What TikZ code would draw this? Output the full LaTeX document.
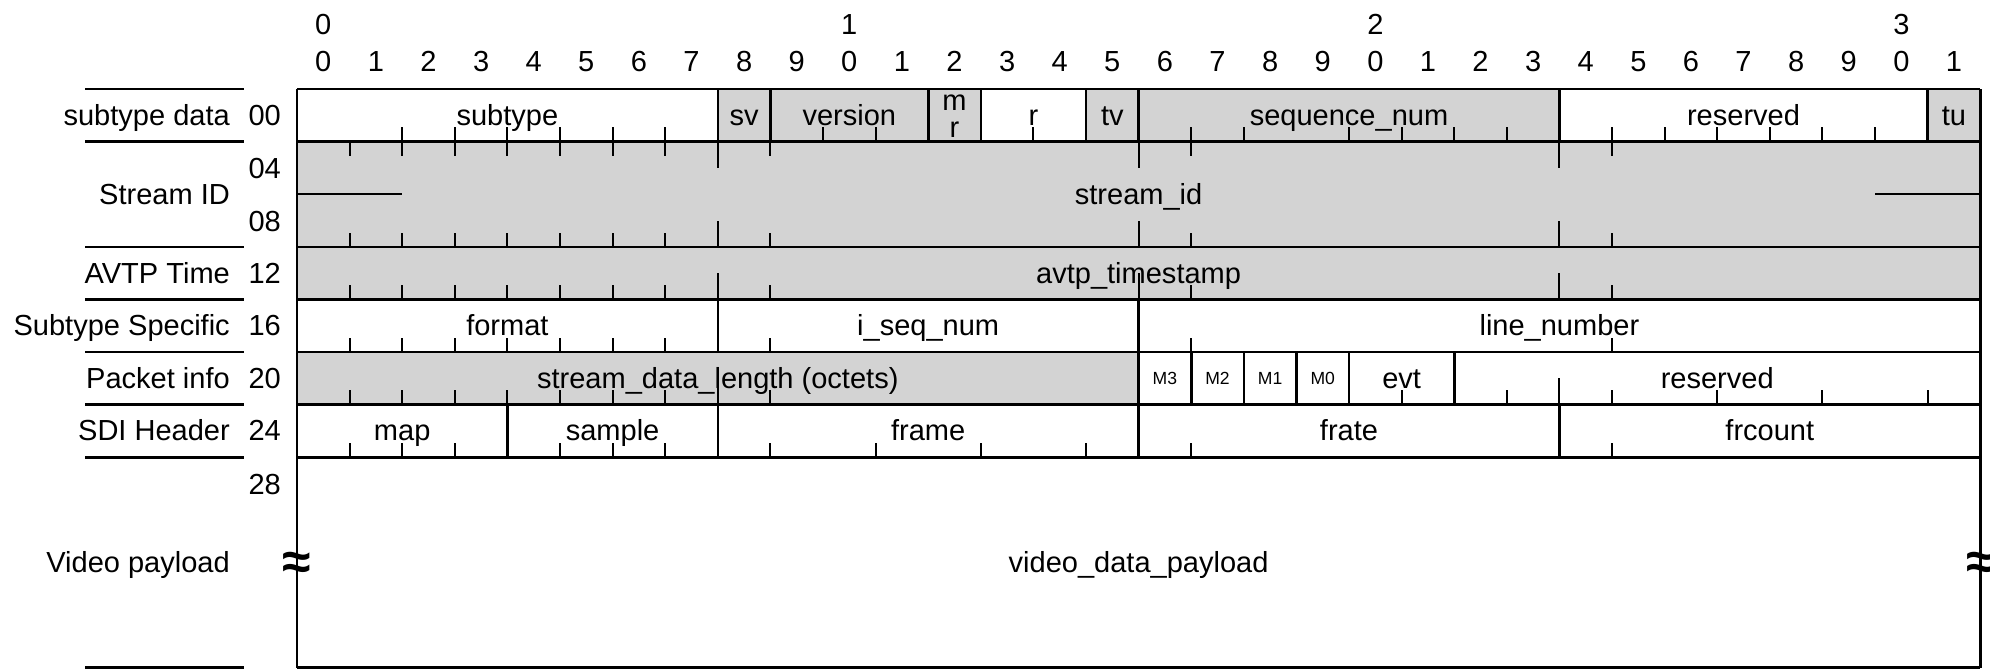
\documentclass[tikz,border=0pt]{standalone}
\usepackage{fontspec}
\setmainfont{Liberation Sans}
\definecolor{fgray}{RGB}{211,211,211}
\tikzset{
  txt/.style={font=\fontsize{15.7}{18}\selectfont, inner sep=0pt, anchor=base},
  rtxt/.style={txt, anchor=base east},
  smalltxt/.style={font=\fontsize{9.5}{11}\selectfont, inner sep=0pt, anchor=base},
  tickline/.style={line width=1.1pt},
  bord/.style={line width=1.4pt},
  sepline/.style={line width=1.4pt},
  wave/.style={font=\fontsize{28}{30}\selectfont\bfseries, inner sep=0pt, anchor=base},
}
\begin{document}
\begin{tikzpicture}[x=1cm,y=1cm]
\useasboundingbox (-5.646,-11.008) rectangle (32.186,1.692);
% gray fills
\fill[fgray] (8,0) rectangle (13,-1);
\fill[fgray] (15,0) rectangle (24,-1);
\fill[fgray] (31,0) rectangle (32,-1);
\fill[fgray] (0,-1) rectangle (32,-4);
\fill[fgray] (0,-5) rectangle (16,-6);
% ticks row 00
\foreach \x in {2,...,7,10,11,14,17,18,20,21,22,23,25,26,27,28,29,30}
  \draw[tickline] (\x,-1) -- ++(0,0.27);
% stream id and avtp
\foreach \x in {1,...,7,9,...,15,17,...,23,25,...,31}{
  \draw[tickline] (\x,-1) -- ++(0,-0.27);
  \draw[tickline] (\x,-3) -- ++(0,0.27);
  \draw[tickline] (\x,-4) -- ++(0,0.27);
}
\foreach \x in {8,16,24}{
  \draw[tickline] (\x,-1) -- ++(0,-0.5);
  \draw[tickline] (\x,-3) -- ++(0,0.5);
  \draw[tickline] (\x,-4) -- ++(0,0.5);
}
% row 16
\foreach \x in {1,...,7,9,...,15,17,...,31}
  \draw[tickline] (\x,-5) -- ++(0,0.27);
% row 20
\foreach \x in {1,...,7,9,...,15,21,23,25,...,31}
  \draw[tickline] (\x,-6) -- ++(0,0.27);
\foreach \x in {8,24}
  \draw[tickline] (\x,-6) -- ++(0,0.5);
% row 24
\foreach \x in {1,2,3,5,6,7,9,...,15,17,...,23,25,...,31}
  \draw[tickline] (\x,-7) -- ++(0,0.27);
% stream id break marks
\draw[tickline] (0,-2) -- (2,-2);
\draw[tickline] (30,-2) -- (32,-2);
% horizontal borders
\foreach \y in {0,-1,-3,-4,-5,-6,-7,-11}
  \draw[bord] (0,\y) -- (32,\y);
\draw[bord] (0,0) -- (0,-11);
\draw[bord] (32,0) -- (32,-11);
% field dividers
\foreach \x in {8,9,12,13,15,16,24,31} \draw[bord] (\x,0) -- (\x,-1);
\foreach \x in {8,16} \draw[bord] (\x,-4) -- (\x,-5);
\foreach \x in {16,17,18,19,20,22} \draw[bord] (\x,-5) -- (\x,-6);
\foreach \x in {4,8,16,24} \draw[bord] (\x,-6) -- (\x,-7);
% left separator lines
\foreach \y in {0,-1,-3,-4,-5,-6,-7,-11}
  \draw[sepline] (-4.03,\y) -- (-1.01,\y);
% bit numbers
\foreach \i in {0,...,31}{
  \pgfmathtruncatemacro\d{mod(\i,10)}
  \node[txt] (bit\i) at (\i+0.5,0.34) {\d};
}
\node[txt] (ten0) at (0.5,1.04) {0};
\node[txt] (ten1) at (10.5,1.04) {1};
\node[txt] (ten2) at (20.5,1.04) {2};
\node[txt] (ten3) at (30.5,1.04) {3};
% row names
\node[rtxt] (n00) at (-1.27,-0.69) {subtype data};
\node[rtxt] (n04) at (-1.27,-2.19) {Stream ID};
\node[rtxt] (n12) at (-1.27,-3.69) {AVTP Time};
\node[rtxt] (n16) at (-1.27,-4.69) {Subtype Specific};
\node[rtxt] (n20) at (-1.27,-5.69) {Packet info};
\node[rtxt] (n24) at (-1.27,-6.69) {SDI Header};
\node[rtxt] (n28) at (-1.27,-9.19) {Video payload};
% offsets
\node[rtxt] (o00) at (-0.3,-0.69) {00};
\node[rtxt] (o04) at (-0.3,-1.70) {04};
\node[rtxt] (o08) at (-0.3,-2.71) {08};
\node[rtxt] (o12) at (-0.3,-3.69) {12};
\node[rtxt] (o16) at (-0.3,-4.69) {16};
\node[rtxt] (o20) at (-0.3,-5.69) {20};
\node[rtxt] (o24) at (-0.3,-6.69) {24};
\node[rtxt] (o28) at (-0.3,-7.71) {28};
% row 00 fields
\node[txt] (f-subtype) at (4,-0.69) {subtype};
\node[txt] (f-sv) at (8.5,-0.69) {sv};
\node[txt] (f-version) at (10.5,-0.69) {version};
\node[txt] (f-m) at (12.5,-0.40) {m};
\node[txt] (f-r1) at (12.5,-0.93) {r};
\node[txt] (f-r) at (14,-0.69) {r};
\node[txt] (f-tv) at (15.5,-0.69) {tv};
\node[txt] (f-seq) at (20,-0.69) {sequence\_num};
\node[txt] (f-res0) at (27.5,-0.69) {reserved};
\node[txt] (f-tu) at (31.5,-0.69) {tu};
% other fields
\node[txt] (f-sid) at (16,-2.19) {stream\_id};
\node[txt] (f-avtp) at (16,-3.69) {avtp\_timestamp};
\node[txt] (f-format) at (4,-4.69) {format};
\node[txt] (f-iseq) at (12,-4.69) {i\_seq\_num};
\node[txt] (f-line) at (24,-4.69) {line\_number};
\node[txt] (f-sdl) at (8,-5.69) {stream\_data\_length (octets)};
\node[smalltxt] (f-m3) at (16.5,-5.62) {M3};
\node[smalltxt] (f-m2) at (17.5,-5.62) {M2};
\node[smalltxt] (f-m1) at (18.5,-5.62) {M1};
\node[smalltxt] (f-m0) at (19.5,-5.62) {M0};
\node[txt] (f-evt) at (21,-5.69) {evt};
\node[txt] (f-res1) at (27,-5.69) {reserved};
\node[txt] (f-map) at (2,-6.69) {map};
\node[txt] (f-sample) at (6,-6.69) {sample};
\node[txt] (f-frame) at (12,-6.69) {frame};
\node[txt] (f-frate) at (20,-6.69) {frate};
\node[txt] (f-frcount) at (28,-6.69) {frcount};
\node[txt] (f-payload) at (16,-9.19) {video\_data\_payload};
% break symbols
\node[wave] (wl) at (0,-9.33) {≈};
\node[wave] (wr) at (32,-9.33) {≈};
\end{tikzpicture}
\end{document}
